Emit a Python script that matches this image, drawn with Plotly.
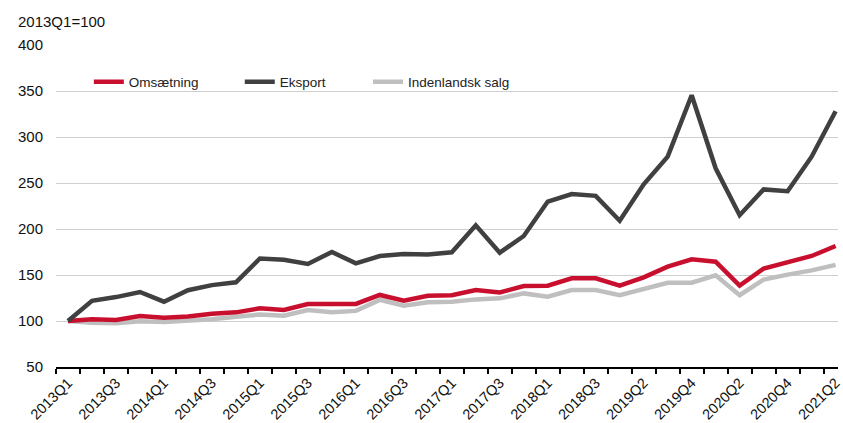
import plotly.graph_objects as go

quarters = [
    "2013Q1", "2013Q2", "2013Q3", "2013Q4",
    "2014Q1", "2014Q2", "2014Q3", "2014Q4",
    "2015Q1", "2015Q2", "2015Q3", "2015Q4",
    "2016Q1", "2016Q2", "2016Q3", "2016Q4",
    "2017Q1", "2017Q2", "2017Q3", "2017Q4",
    "2018Q1", "2018Q2", "2018Q3", "2018Q4",
    "2019Q2", "2019Q3", "2019Q4",
    "2020Q1", "2020Q2", "2020Q3", "2020Q4",
    "2021Q1", "2021Q2",
]

omsaetning = [100, 102, 101, 105.4, 103.5, 105, 108, 109.4, 113.8, 112, 118.5, 118,
              118.5, 128.3, 122, 127.5, 128, 133.7, 131, 138, 138.4, 146.4, 146.4,
              138.4, 147.5, 159, 167, 164.4, 138.4, 157, 163.4, 170.7, 181.5]

eksport = [100, 122, 126, 131.5, 121, 133.5, 139, 142, 168, 166.5, 162, 175, 162.7,
           170.6, 172.8, 172.3, 174.7, 204, 174.3, 192.4, 229.8, 238, 236, 209, 248.6,
           278.6, 345.4, 266, 215, 243, 241, 278.6, 328]

indenlandsk = [100, 98, 97.5, 99.6, 99, 100, 102, 104.7, 107, 105.8, 112, 109.4, 111,
               123, 116.7, 120.3, 121, 123.5, 124.6, 130, 126.4, 133.6, 133.6, 128,
               134.4, 141.6, 141.6, 149.7, 128, 145, 150.4, 155, 161]

y_ticks = [50, 100, 150, 200, 250, 300, 350, 400]

x_idx = list(range(len(quarters)))
tick_idx = x_idx[::2]
tick_lbl = quarters[::2]

FONT = "Liberation Sans, Arial, sans-serif"

fig = go.Figure()
fig.add_trace(go.Scatter(x=x_idx, y=indenlandsk, mode="lines", name="Indenlandsk salg",
                         line=dict(color="#BFBFBF", width=4.5), legend="legend3"))
fig.add_trace(go.Scatter(x=x_idx, y=omsaetning, mode="lines", name="Omsætning",
                         line=dict(color="#C8102E", width=4.5), legend="legend"))
fig.add_trace(go.Scatter(x=x_idx, y=eksport, mode="lines", name="Eksport",
                         line=dict(color="#404040", width=4.5), legend="legend2"))

leg_common = dict(orientation="h", yanchor="middle", xanchor="left", y=0.885,
                  font=dict(family=FONT, size=13.5, color="#222222"),
                  bgcolor="rgba(0,0,0,0)", itemwidth=30)

fig.update_layout(
    width=843, height=423,
    margin=dict(l=56, r=0, t=45, b=56),
    paper_bgcolor="white", plot_bgcolor="white",
    font=dict(family=FONT, size=15, color="#111111"),
    showlegend=True,
    legend=dict(x=0.042, **leg_common),
    legend2=dict(x=0.235, **leg_common),
    legend3=dict(x=0.399, **leg_common),
    xaxis=dict(
        range=[-0.5, 32.1],
        tickmode="array", tickvals=tick_idx, ticktext=tick_lbl,
        tickangle=-45, ticks="", ticklabeloverflow="allow",
        showgrid=False, zeroline=False,
        showline=True, linecolor="#000000", linewidth=1.5,
        tickfont=dict(family=FONT, size=14.5, color="#111111"),
        minor=dict(tickmode="linear", tick0=-0.5, dtick=1, ticks="outside",
                   ticklen=5, tickcolor="#000000", tickwidth=1.5, showgrid=False),
    ),
    yaxis=dict(
        range=[50, 400], tickmode="array", tickvals=y_ticks,
        showgrid=True, gridcolor="#CFCFCF", gridwidth=1.3,
        zeroline=False, showline=False, ticks="",
        ticklabelstandoff=12,
        tickfont=dict(family=FONT, size=15, color="#111111"),
    ),
    annotations=[dict(text="2013Q1=100", xref="paper", yref="paper", x=-0.051, y=1.0745,
                      xanchor="left", yanchor="middle", showarrow=False,
                      font=dict(family=FONT, size=15, color="#111111"))],
)

fig.write_html(
    "out.html",
    config={"displayModeBar": False},
    post_script="document.body.style.margin='0';document.body.style.overflow='hidden';",
)
